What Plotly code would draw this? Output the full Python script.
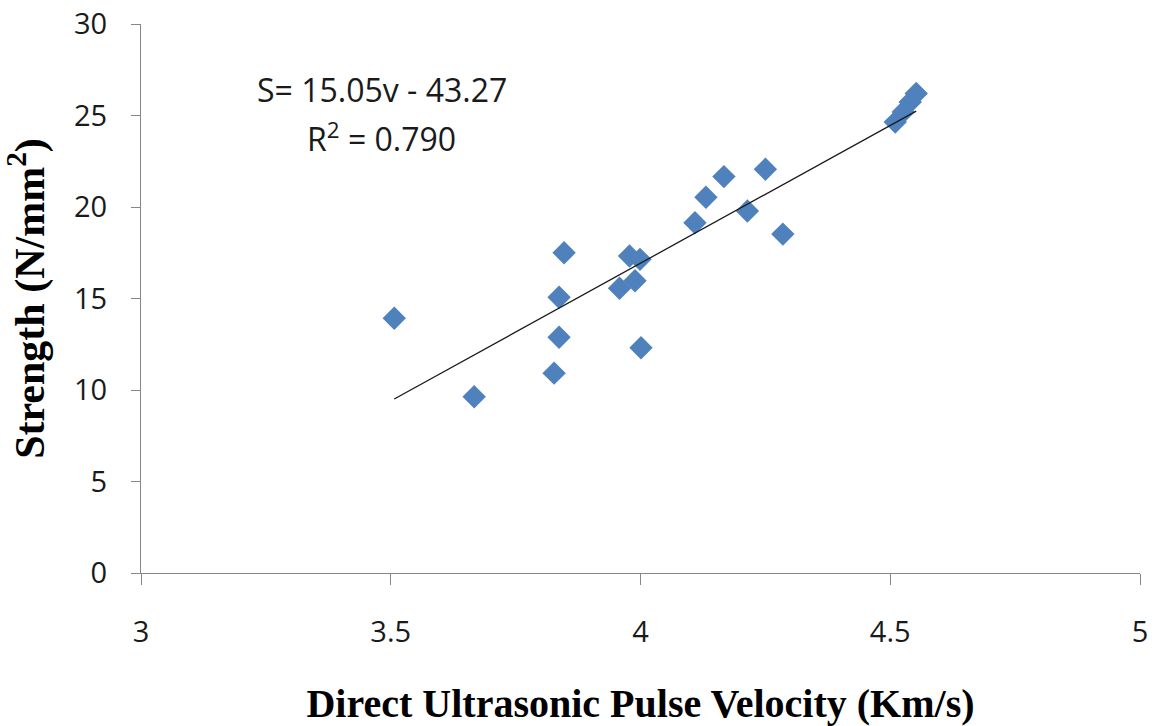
import plotly.graph_objects as go

# Data
velocity = [3.507, 3.667, 3.827, 3.837, 3.837, 3.847, 3.958, 3.978, 3.989, 3.999,
            4.001, 4.109, 4.131, 4.167, 4.214, 4.250, 4.285, 4.510, 4.526, 4.540, 4.552]
strength = [13.92, 9.63, 10.92, 12.88, 15.07, 17.50, 15.56, 17.32, 15.97, 17.14,
            12.31, 19.14, 20.53, 21.66, 19.78, 22.06, 18.52, 24.64, 25.19, 25.74, 26.20]

# Linear trend line coefficients (as printed on the chart)
slope = 15.05
intercept = -43.27
r_squared = 0.790

x_ticks = [3, 3.5, 4, 4.5, 5]
y_ticks = [0, 5, 10, 15, 20, 25, 30]

trend_x = [min(velocity), max(velocity)]
trend_y = [slope * v + intercept for v in trend_x]

fig = go.Figure()
fig.add_trace(go.Scatter(
    x=velocity, y=strength, mode="markers",
    marker=dict(symbol="diamond", size=18, color="#4F81BD", line=dict(width=0)),
    showlegend=False,
))
fig.add_trace(go.Scatter(
    x=trend_x, y=trend_y, mode="lines",
    line=dict(color="#1a1a1a", width=1.3),
    showlegend=False,
))

axis_common = dict(
    showgrid=False, zeroline=False, showline=True,
    linecolor="#878787", linewidth=1.2,
    ticks="outside", tickcolor="#878787", tickwidth=1.2,
    tickfont=dict(family="Open Sans", size=29, color="#1a1a1a"),
)

fig.update_xaxes(
    range=[3, 5], tickvals=x_ticks, ticktext=[str(t) for t in x_ticks],
    ticklen=11, ticklabelstandoff=22,
    title=dict(text="<b>Direct Ultrasonic Pulse Velocity (Km/s)</b>",
               font=dict(family="Liberation Serif", size=40, color="#000"),
               standoff=42),
    **axis_common,
)
fig.update_yaxes(
    range=[0, 30], tickvals=y_ticks, ticktext=[str(t) for t in y_ticks],
    ticklen=9, ticklabelstandoff=18,
    title=dict(text="<b>Strength (N/mm<sup>2</sup>)</b>",
               font=dict(family="Liberation Serif", size=42, color="#000"),
               standoff=16),
    **axis_common,
)

fig.add_annotation(
    xref="paper", yref="paper", x=0.2412, y=0.8798,
    xanchor="center", yanchor="middle", showarrow=False,
    text=f"S= {slope:.2f}v - {abs(intercept):.2f}",
    font=dict(family="Open Sans", size=32, color="#1a1a1a"),
)
fig.add_annotation(
    xref="paper", yref="paper", x=0.2412, y=0.794,
    xanchor="center", yanchor="middle", showarrow=False,
    text=f"R<sup>2</sup> = {r_squared:.3f}",
    font=dict(family="Open Sans", size=32, color="#1a1a1a"),
)

fig.update_layout(
    width=1154, height=726,
    margin=dict(l=141, r=14, t=24, b=153, autoexpand=False),
    plot_bgcolor="white", paper_bgcolor="white",
)

fig.write_html("out.html")
